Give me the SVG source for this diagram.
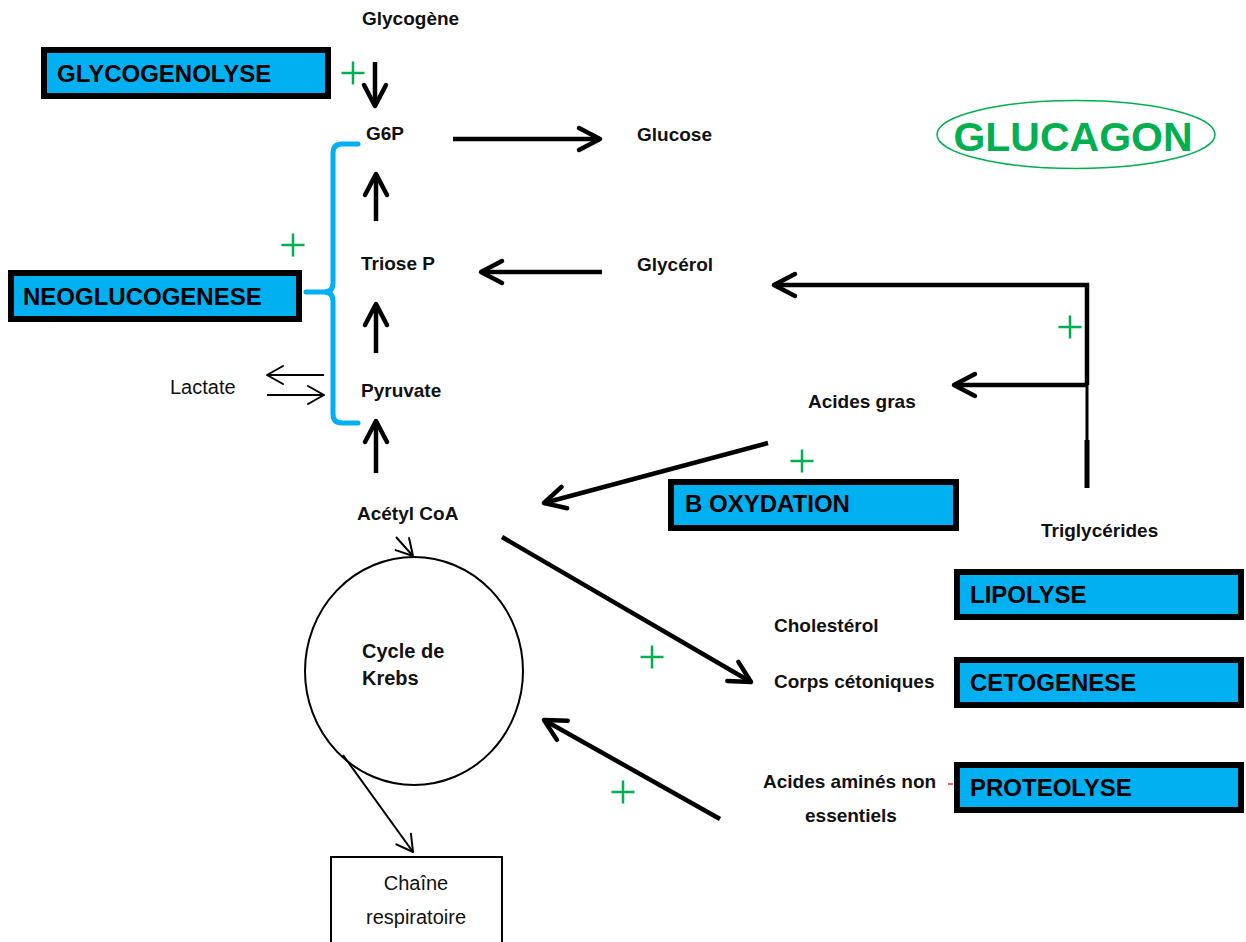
<svg xmlns="http://www.w3.org/2000/svg" width="1246" height="942" viewBox="0 0 1246 942">
  <style>
    .lbl { font-family: "Liberation Sans", Arial, sans-serif; font-weight: bold; font-size: 19px; fill: #111; }
    .reg { font-family: "Liberation Sans", Arial, sans-serif; font-size: 20px; fill: #111; }
    .proc rect { fill: #00b0f0; stroke: #000; stroke-width: 6; }
    .proc text { font-family: "Liberation Sans", Arial, sans-serif; font-weight: bold; font-size: 24px; fill: #000; }
    .thick { stroke: #000; stroke-width: 4.5; fill: none; marker-end: url(#headThick); }
    .thin { stroke: #000; stroke-width: 2; fill: none; marker-end: url(#headThin); }
    .plus { stroke: #00b050; stroke-width: 2.5; fill: none; }
  </style>
  <defs>
    <marker id="headThick" viewBox="-4 -4 30 30" refX="21" refY="11" markerWidth="30" markerHeight="30" markerUnits="userSpaceOnUse" orient="auto">
      <path d="M0,0 L21,11 L0,22" fill="none" stroke="#000" stroke-width="4.5" stroke-linecap="round" stroke-linejoin="round"/>
    </marker>
    <marker id="headThin" viewBox="-3 -3 22 24" refX="16" refY="9" markerWidth="22" markerHeight="24" markerUnits="userSpaceOnUse" orient="auto">
      <path d="M0,0 L16,9 L0,18" fill="none" stroke="#000" stroke-width="2" stroke-linecap="round" stroke-linejoin="round"/>
    </marker>
    <path id="plusSign" d="M-11.5,0 H11.5 M0,-11.5 V11.5"/>
  </defs>

  <rect width="1246" height="942" fill="#fff"/>

  <!-- connectors -->
  <g id="connectors">
    <line class="thick" x1="375" y1="62" x2="375" y2="106"/>
    <line class="thick" x1="453" y1="139" x2="600" y2="139"/>
    <line class="thick" x1="376" y1="221" x2="376" y2="174"/>
    <line class="thick" x1="376" y1="353" x2="376" y2="304"/>
    <line class="thick" x1="376" y1="473" x2="376" y2="421"/>
    <line class="thick" x1="602" y1="272" x2="481" y2="272"/>
    <!-- triglycerides branch -->
    <polyline class="thick" points="1087,385 1087,285 774,285"/>
    <line x1="1087" y1="385" x2="1087" y2="440" stroke="#000" stroke-width="3"/>
    <line x1="1087" y1="440" x2="1087" y2="488" stroke="#000" stroke-width="5"/>
    <line class="thick" x1="1087" y1="385" x2="954" y2="385"/>
    <line class="thick" x1="768" y1="443" x2="544" y2="503"/>
    <line class="thick" x1="502" y1="537" x2="751" y2="682"/>
    <line class="thick" x1="720" y1="819" x2="544" y2="720"/>
    <!-- lactate exchange -->
    <line class="thin" x1="324" y1="375" x2="267" y2="375"/>
    <line class="thin" x1="267" y1="395" x2="324" y2="395"/>
    <line class="thin" x1="396" y1="537" x2="413" y2="556"/>
    <line class="thin" x1="343" y1="755" x2="413" y2="852"/>
    <!-- neoglucogenesis brace -->
    <path d="M358,144 L342,144 Q333,144 333,153 L333,283 Q333,292 324,292 L306,292 M324,292 Q333,292 333,301 L333,414 Q333,423 342,423 L358,423" fill="none" stroke="#00b0f0" stroke-width="5" stroke-linecap="round"/>
    <line x1="948" y1="784" x2="953" y2="784" stroke="#e03030" stroke-width="1.5"/>
  </g>

  <!-- activation marks -->
  <g id="activations">
    <use href="#plusSign" class="plus" x="353" y="73"/>
    <use href="#plusSign" class="plus" x="293" y="245"/>
    <use href="#plusSign" class="plus" x="1070" y="327"/>
    <use href="#plusSign" class="plus" x="802" y="461"/>
    <use href="#plusSign" class="plus" x="652" y="657"/>
    <use href="#plusSign" class="plus" x="623" y="792"/>
  </g>

  <!-- metabolites -->
  <g id="glycogene"><text class="lbl" x="362" y="25">Glycogène</text></g>
  <g id="g6p"><text class="lbl" x="366" y="140">G6P</text></g>
  <g id="glucose"><text class="lbl" x="637" y="141">Glucose</text></g>
  <g id="triose-p"><text class="lbl" x="361" y="270">Triose P</text></g>
  <g id="glycerol"><text class="lbl" x="637" y="271">Glycérol</text></g>
  <g id="lactate"><text class="reg" x="170" y="394">Lactate</text></g>
  <g id="pyruvate"><text class="lbl" x="361" y="397">Pyruvate</text></g>
  <g id="acides-gras"><text class="lbl" x="808" y="408">Acides gras</text></g>
  <g id="acetyl-coa"><text class="lbl" x="357" y="520">Acétyl CoA</text></g>
  <g id="triglycerides"><text class="lbl" x="1041" y="537">Triglycérides</text></g>
  <g id="cholesterol"><text class="lbl" x="774" y="632">Cholestérol</text></g>
  <g id="corps-cetoniques"><text class="lbl" x="774" y="688">Corps cétoniques</text></g>
  <g id="acides-amines">
    <text class="lbl" x="763" y="788">Acides aminés non</text>
    <text class="lbl" x="805" y="822">essentiels</text>
  </g>

  <g id="krebs">
    <ellipse cx="414" cy="671" rx="109" ry="114" fill="none" stroke="#000" stroke-width="2"/>
    <text class="lbl" x="362" y="658" style="font-size:20px">Cycle de</text>
    <text class="lbl" x="362" y="685" style="font-size:20px">Krebs</text>
  </g>

  <g id="chaine-respiratoire">
    <rect x="331" y="857" width="171" height="110" fill="#fff" stroke="#000" stroke-width="2"/>
    <text class="reg" x="416" y="890" text-anchor="middle">Chaîne</text>
    <text class="reg" x="416" y="924" text-anchor="middle">respiratoire</text>
  </g>

  <!-- pathways -->
  <g id="glycogenolyse" class="proc">
    <rect x="44" y="50" width="284" height="46"/>
    <text x="57" y="82">GLYCOGENOLYSE</text>
  </g>
  <g id="neoglucogenese" class="proc">
    <rect x="11" y="273" width="288" height="46"/>
    <text x="23" y="305">NEOGLUCOGENESE</text>
  </g>
  <g id="b-oxydation" class="proc">
    <rect x="671" y="482" width="285" height="46"/>
    <text x="685" y="512">B OXYDATION</text>
  </g>
  <g id="lipolyse" class="proc">
    <rect x="957" y="572" width="284" height="45"/>
    <text x="970" y="603">LIPOLYSE</text>
  </g>
  <g id="cetogenese" class="proc">
    <rect x="957" y="660" width="284" height="45"/>
    <text x="970" y="691">CETOGENESE</text>
  </g>
  <g id="proteolyse" class="proc">
    <rect x="957" y="765" width="284" height="45"/>
    <text x="970" y="796">PROTEOLYSE</text>
  </g>

  <g id="glucagon">
    <ellipse cx="1076" cy="134.5" rx="139" ry="34" fill="none" stroke="#00b050" stroke-width="1.5"/>
    <text x="1073" y="151" text-anchor="middle" font-family="'Liberation Sans', Arial, sans-serif" font-weight="bold" font-size="41" fill="#00b050">GLUCAGON</text>
  </g>
</svg>
